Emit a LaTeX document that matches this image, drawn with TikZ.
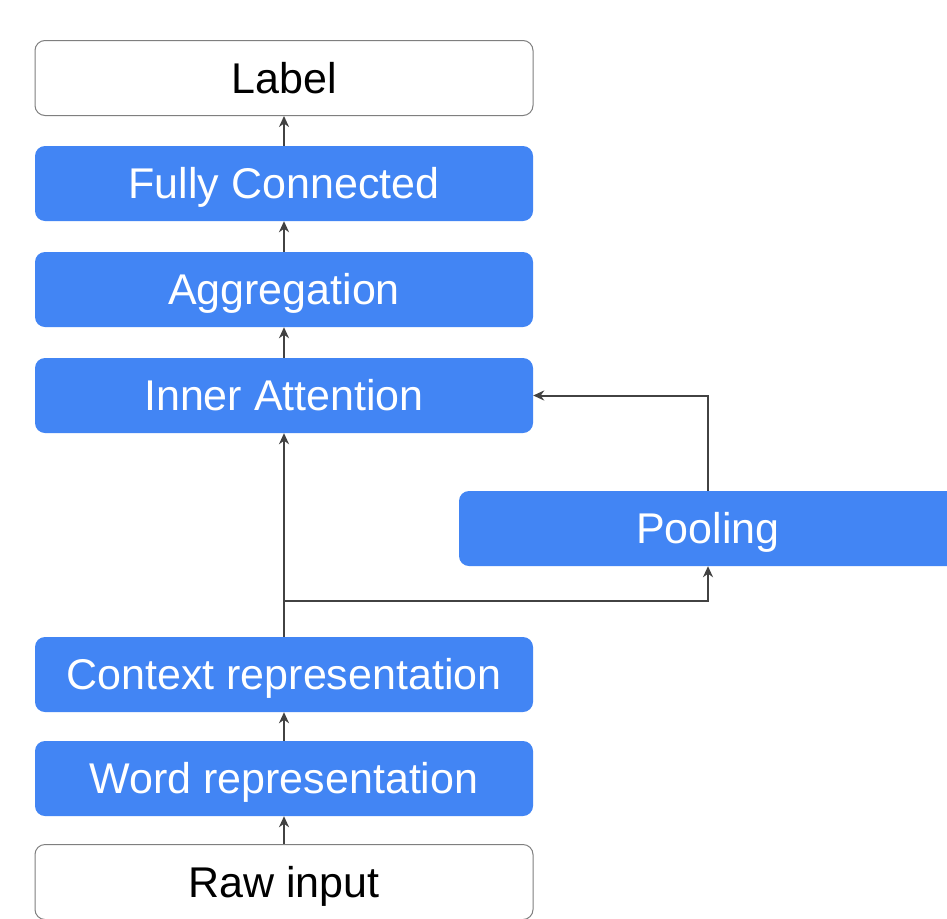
\documentclass[tikz,border=0pt]{standalone}
\usepackage{fontspec}
\setmainfont{Liberation Sans}
\usetikzlibrary{arrows.meta}
\definecolor{gblue}{HTML}{4285F4}
\definecolor{arrowgray}{HTML}{424242}
\definecolor{boxgray}{HTML}{7F7F7F}
\begin{document}
\begin{tikzpicture}[x=1pt,y=1pt,
  base/.style={rounded corners=10pt, minimum width=498pt, minimum height=75pt, inner sep=0pt, text height=30pt, text depth=0pt, font=\fontsize{43}{50}\selectfont},
  bluebox/.style={base, fill=gblue, text=white},
  whitebox/.style={base, draw=boxgray, line width=1pt, fill=white, text=black},
  arr/.style={draw=arrowgray, line width=2pt, -{Stealth[length=11pt,width=10pt,inset=3.5pt]}}]
\useasboundingbox (0,0) rectangle (947,-918);
\clip (0,0) rectangle (947,-918);
\fill[white] (0,0) rectangle (947,-918);
\node[whitebox] (label) at (284,-78) {Label};
\node[bluebox] (fc) at (284,-183.5) {Fully Connected};
\node[bluebox] (agg) at (284,-289.5) {Aggregation};
\node[bluebox] (ia) at (284,-395.5) {Inner Attention};
\node[bluebox] (pool) at (708,-528.5) {Pooling};
\node[bluebox] (ctx) at (284,-674.5) {Context representation};
\node[bluebox] (word) at (284,-778.5) {Word representation};
\node[whitebox] (raw) at (284,-882) {Raw input};
\coordinate (br) at (284,-601);
\draw[arr] (raw) -- (word);
\draw[arr] (word) -- (ctx);
\draw[arr] (ctx) -- (ia);
\draw[arr] (br) -| (pool.south);
\draw[arr] (pool.north) |- (ia.east);
\draw[arr] (ia) -- (agg);
\draw[arr] (agg) -- (fc);
\draw[arr] (fc) -- (label);
\end{tikzpicture}
\end{document}
